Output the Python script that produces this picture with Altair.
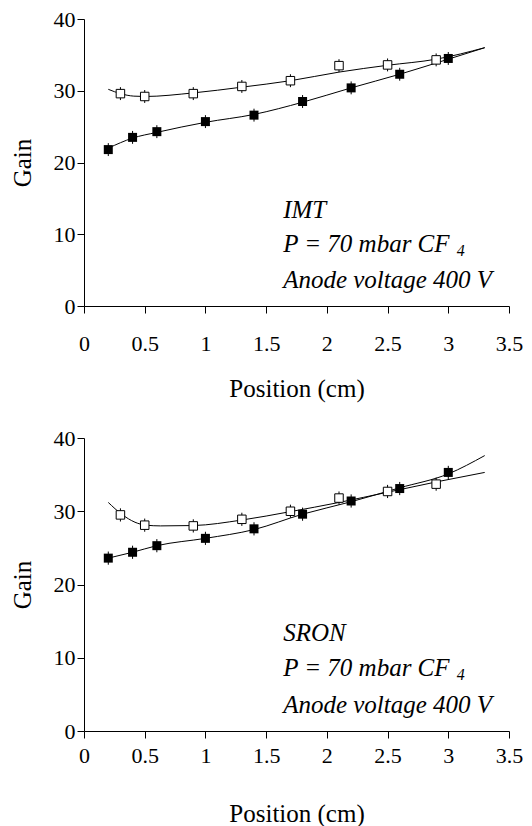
import altair as alt
import pandas as pd

x_open_imt = [0.30, 0.50, 0.90, 1.30, 1.70, 2.10, 2.50, 2.90]
g_open_imt = [29.6, 29.2, 29.6, 30.6, 31.4, 33.5, 33.6, 34.3]
x_fill_imt = [0.20, 0.40, 0.60, 1.00, 1.40, 1.80, 2.20, 2.60, 3.00]
g_fill_imt = [21.8, 23.5, 24.3, 25.7, 26.6, 28.5, 30.4, 32.3, 34.5]

x_open_sron = [0.30, 0.50, 0.90, 1.30, 1.70, 2.10, 2.50, 2.90]
g_open_sron = [29.5, 28.1, 28.0, 28.9, 30.0, 31.8, 32.7, 33.7]
x_fill_sron = [0.20, 0.40, 0.60, 1.00, 1.40, 1.80, 2.20, 2.60, 3.00]
g_fill_sron = [23.6, 24.4, 25.3, 26.3, 27.6, 29.6, 31.4, 33.1, 35.3]

# ---- fitted curves ----
cx_open_imt = [0.20, 0.30, 0.41, 0.50, 0.90, 1.30, 1.70, 2.10, 2.50, 2.90, 3.30]
cg_open_imt = [30.2, 29.6, 29.25, 29.2, 29.7, 30.5, 31.4, 32.6, 33.55, 34.4, 36.0]
cx_fill_imt = [0.20, 0.40, 0.60, 1.00, 1.40, 1.80, 2.20, 2.60, 3.00, 3.30]
cg_fill_imt = [22.0, 23.4, 24.2, 25.6, 26.7, 28.4, 30.4, 32.3, 34.4, 36.0]

cx_open_sron = [0.20, 0.31, 0.42, 0.51, 0.63, 0.90, 1.30, 1.70, 2.10, 2.50, 2.90, 3.30]
cg_open_sron = [31.2, 29.6, 28.5, 28.1, 28.0, 28.05, 28.8, 29.95, 31.2, 32.6, 34.0, 35.3]
cx_fill_sron = [0.20, 0.40, 0.60, 1.00, 1.40, 1.80, 2.20, 2.60, 3.00, 3.30]
cg_fill_sron = [23.6, 24.4, 25.3, 26.3, 27.5, 29.6, 31.3, 33.2, 35.1, 37.6]

err = 0.9  # half-length of the small error bars (gain units)

x_ticks = [0, 0.5, 1, 1.5, 2, 2.5, 3, 3.5]
y_ticks = [0, 10, 20, 30, 40]

FONT = "Liberation Serif"


def points(xo, go, xf, gf):
    rows = []
    for x, g in zip(xo, go):
        rows.append({"x": x, "g": g, "s": "open", "lo": g - err, "hi": g + err})
    for x, g in zip(xf, gf):
        rows.append({"x": x, "g": g, "s": "filled", "lo": g - err, "hi": g + err})
    return pd.DataFrame(rows)


def curves(cxo, cgo, cxf, cgf):
    rows = [{"x": x, "g": g, "s": "open"} for x, g in zip(cxo, cgo)]
    rows += [{"x": x, "g": g, "s": "filled"} for x, g in zip(cxf, cgf)]
    return pd.DataFrame(rows)


def panel(df, cdf, name, label_pad, title_pad, h):
    xs = alt.Scale(domain=[0, 3.5], nice=False)
    ys = alt.Scale(domain=[0, 40], nice=False)
    xax = alt.Axis(values=x_ticks, format="~g", title="Position (cm)",
                   labelPadding=label_pad, titlePadding=title_pad, labelFlush=False)
    yax = alt.Axis(values=y_ticks, title="Gain", titlePadding=18)

    fits = alt.Chart(cdf).mark_line(
        color="black", strokeWidth=1, interpolate="monotone"
    ).encode(
        x=alt.X("x:Q", scale=xs, axis=xax),
        y=alt.Y("g:Q", scale=ys, axis=yax),
        detail="s:N",
    )
    base = alt.Chart(df)
    bars = base.mark_rule(color="black", strokeWidth=1).encode(
        x=alt.X("x:Q", scale=xs), y=alt.Y("lo:Q", scale=ys), y2="hi:Q")
    pts_fill = base.transform_filter(alt.datum.s == "filled").mark_point(
        shape="square", size=81, filled=True, color="black", opacity=1
    ).encode(x=alt.X("x:Q", scale=xs), y=alt.Y("g:Q", scale=ys))
    pts_open = base.transform_filter(alt.datum.s == "open").mark_point(
        shape="square", size=72, filled=True, fill="white", stroke="black",
        strokeWidth=1, opacity=1
    ).encode(x=alt.X("x:Q", scale=xs), y=alt.Y("g:Q", scale=ys))

    txt = pd.DataFrame({
        "x": [1.64, 1.64, 1.64],
        "g": [12.3, 7.5, 2.5],
        "t": [name, "P = 70 mbar CF", "Anode voltage 400 V"],
    })
    notes = alt.Chart(txt).mark_text(
        align="left", baseline="alphabetic", font=FONT, fontSize=25,
        fontStyle="italic", color="black"
    ).encode(x=alt.X("x:Q", scale=xs), y=alt.Y("g:Q", scale=ys), text="t:N")
    sub = alt.Chart(pd.DataFrame({"x": [3.07], "g": [7.5], "t": ["4"]})).mark_text(
        align="left", baseline="alphabetic", font=FONT, fontSize=16,
        fontStyle="italic", color="black", dy=4
    ).encode(x=alt.X("x:Q", scale=xs), y=alt.Y("g:Q", scale=ys), text="t:N")

    return alt.layer(fits, bars, pts_fill, pts_open, notes, sub).properties(
        width=425, height=h)


top = panel(points(x_open_imt, g_open_imt, x_fill_imt, g_fill_imt),
            curves(cx_open_imt, cg_open_imt, cx_fill_imt, cg_fill_imt),
            "IMT", 20, 22, 287)
bot = panel(points(x_open_sron, g_open_sron, x_fill_sron, g_fill_sron),
            curves(cx_open_sron, cg_open_sron, cx_fill_sron, cg_fill_sron),
            "SRON", 7, 35, 293)

chart = alt.vconcat(top, bot, spacing=26).properties(
    padding={"left": 2, "top": 0, "right": 0, "bottom": 0}
).configure_view(stroke=None).configure_axis(
    grid=False, domainColor="black", tickColor="black", tickSize=7,
    labelFont=FONT, labelFontSize=22, labelColor="black",
    titleFont=FONT, titleFontSize=25, titleFontWeight="normal", titleColor="black",
    domainWidth=1, tickWidth=1
)

chart.save("out.html", embed_options={"renderer": "svg", "actions": False})
